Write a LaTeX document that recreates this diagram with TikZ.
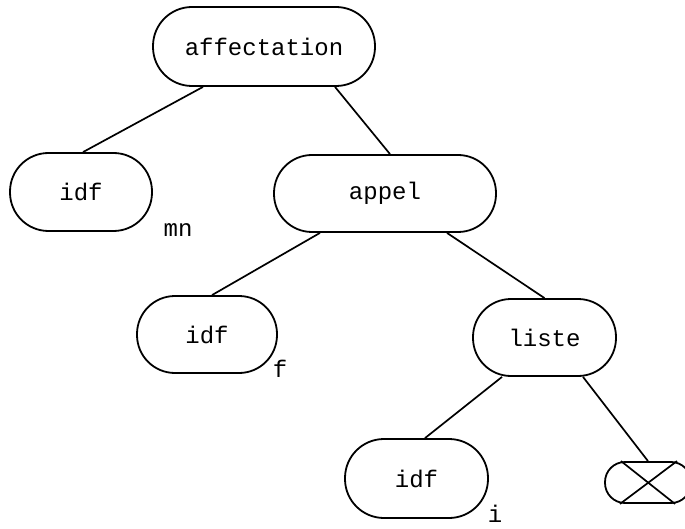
\documentclass[tikz,border=0pt]{standalone}
\usepackage{fontspec}
\newfontfamily\monofont{Liberation Mono}
\begin{document}
\begin{tikzpicture}[x=1pt,y=-1pt,
  pill/.style 2 args={draw, line width=1.8pt, rounded corners=#2/2-0.5pt,
    minimum width=#1, minimum height=#2, inner sep=0pt, font=\monofont\fontsize{24}{26}\selectfont},
  edge/.style={line width=1.7pt},
  lab/.style={anchor=base, inner sep=0pt, font=\monofont\fontsize{24}{26}\selectfont}]
\useasboundingbox (0,0) rectangle (685,529);
\node[pill={222pt}{79pt}] (aff) at (264,46.5) {affectation};
\node[pill={142pt}{78pt}] (idfa) at (81,192) {idf};
\node[pill={222pt}{77pt}] (appel) at (385,193.5) {appel};
\node[pill={140pt}{77pt}] (idfb) at (207,334.5) {idf};
\node[pill={143pt}{77pt}] (liste) at (544.5,337.5) {liste};
\node[pill={143pt}{79pt}] (idfc) at (416.5,478.5) {idf};
\node[pill={86pt}{41pt}] (nil) at (648,482.5) {};
\node[lab] (mn) at (178,237) {mn};
\node[lab] (f) at (280,377) {f};
\node[lab] (i) at (495,522) {i};
\draw[edge] ([xshift=-61pt]aff.south) -- ([xshift=2pt]idfa.north);
\draw[edge] ([xshift=71pt]aff.south) -- ([xshift=5pt]appel.north);
\draw[edge] ([xshift=-65pt]appel.south) -- ([xshift=5pt]idfb.north);
\draw[edge] ([xshift=62pt]appel.south) -- ([xshift=0pt]liste.north);
\draw[edge] ([xshift=-42.5pt]liste.south) -- ([xshift=8.5pt]idfc.north);
\draw[edge] ([xshift=38.5pt]liste.south) -- ([xshift=0pt]nil.north);
\draw[edge] ([xshift=-27pt]nil.north) -- ([xshift=27pt]nil.south);
\draw[edge] ([xshift=29pt]nil.north) -- ([xshift=-28pt]nil.south);
\end{tikzpicture}
\end{document}
